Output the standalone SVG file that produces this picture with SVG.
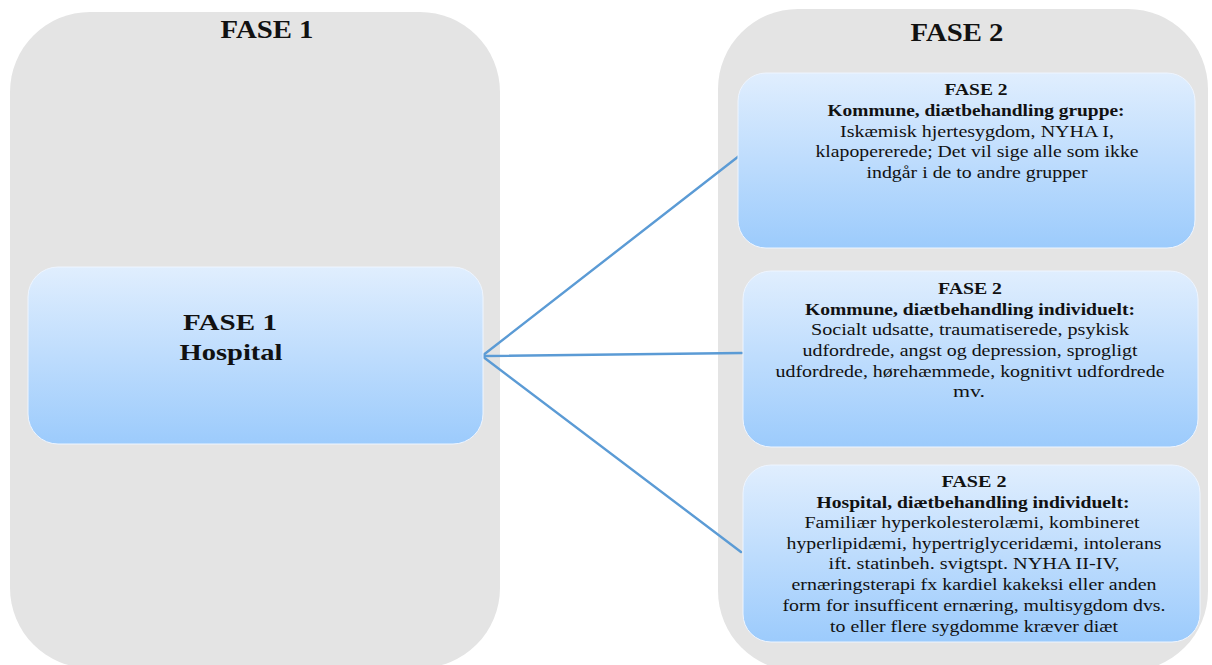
<svg xmlns="http://www.w3.org/2000/svg" width="1212" height="665" viewBox="0 0 1212 665">
<defs>
<linearGradient id="blue" x1="0" y1="0" x2="0" y2="1">
<stop offset="0" stop-color="#e0eefe"/>
<stop offset="1" stop-color="#9ccbfc"/>
</linearGradient>
<style>
.cont{fill:#e4e4e4;}
.node{fill:url(#blue);stroke:#eef5ff;stroke-width:1;}
.conn{stroke:#5b9bd5;stroke-width:2.4;fill:none;stroke-linecap:round;}
text{font-family:"Liberation Serif","Times New Roman",serif;fill:#111;text-anchor:middle;}
.title{font-size:26px;font-weight:bold;}
.big{font-size:23px;font-weight:bold;}
.b{font-size:17.5px;font-weight:bold;}
.r{font-size:17.5px;}
</style>
</defs>
<rect width="1212" height="665" fill="#ffffff"/>
<g id="fase1-container">
<rect class="cont" x="10" y="12" width="490" height="656" rx="80" ry="80"/>
<text class="title" x="267" y="38" textLength="93" lengthAdjust="spacingAndGlyphs">FASE 1</text>
</g>
<g id="fase2-container">
<rect class="cont" x="718" y="9" width="490" height="662" rx="80" ry="80"/>
<text class="title" x="957" y="41" textLength="93" lengthAdjust="spacingAndGlyphs">FASE 2</text>
</g>
<g id="connectors">
<line class="conn" x1="482" y1="356" x2="739" y2="156"/>
<line class="conn" x1="482" y1="356" x2="742" y2="353"/>
<line class="conn" x1="482" y1="356" x2="741" y2="552"/>
</g>
<g id="node-fase1">
<rect class="node" x="28" y="267" width="455" height="177" rx="30" ry="30"/>
<text class="big" x="230" y="330" textLength="94" lengthAdjust="spacingAndGlyphs">FASE 1</text>
<text class="big" x="231" y="360" textLength="103" lengthAdjust="spacingAndGlyphs">Hospital</text>
</g>
<g id="node-kommune-gruppe">
<rect class="node" x="738" y="73" width="457" height="175" rx="28" ry="28"/>
<text class="b" x="976" y="95" textLength="63" lengthAdjust="spacingAndGlyphs">FASE 2</text>
<text class="b" x="976" y="116" textLength="297" lengthAdjust="spacingAndGlyphs">Kommune, diætbehandling gruppe:</text>
<text class="r" x="977" y="137" textLength="274" lengthAdjust="spacingAndGlyphs">Iskæmisk hjertesygdom, NYHA I,</text>
<text class="r" x="977" y="157" textLength="323" lengthAdjust="spacingAndGlyphs">klapopererede; Det vil sige alle som ikke</text>
<text class="r" x="977" y="178" textLength="221" lengthAdjust="spacingAndGlyphs">indgår i de to andre grupper</text>
</g>
<g id="node-kommune-individuelt">
<rect class="node" x="743" y="271" width="455" height="176" rx="28" ry="28"/>
<text class="b" x="970" y="294" textLength="64" lengthAdjust="spacingAndGlyphs">FASE 2</text>
<text class="b" x="970" y="315" textLength="330" lengthAdjust="spacingAndGlyphs">Kommune, diætbehandling individuelt:</text>
<text class="r" x="970" y="335" textLength="318" lengthAdjust="spacingAndGlyphs">Socialt udsatte, traumatiserede, psykisk</text>
<text class="r" x="970" y="356" textLength="335" lengthAdjust="spacingAndGlyphs">udfordrede, angst og depression, sprogligt</text>
<text class="r" x="970" y="377" textLength="389" lengthAdjust="spacingAndGlyphs">udfordrede, hørehæmmede, kognitivt udfordrede</text>
<text class="r" x="969" y="397" textLength="32" lengthAdjust="spacingAndGlyphs">mv.</text>
</g>
<g id="node-hospital-individuelt">
<rect class="node" x="743" y="465" width="457" height="177" rx="28" ry="28"/>
<text class="b" x="974" y="487" textLength="65" lengthAdjust="spacingAndGlyphs">FASE 2</text>
<text class="b" x="973" y="508" textLength="313" lengthAdjust="spacingAndGlyphs">Hospital, diætbehandling individuelt:</text>
<text class="r" x="972" y="528" textLength="335" lengthAdjust="spacingAndGlyphs">Familiær hyperkolesterolæmi, kombineret</text>
<text class="r" x="974" y="549" textLength="375" lengthAdjust="spacingAndGlyphs">hyperlipidæmi, hypertriglyceridæmi, intolerans</text>
<text class="r" x="974" y="569" textLength="291" lengthAdjust="spacingAndGlyphs">ift. statinbeh. svigtspt. NYHA II-IV,</text>
<text class="r" x="974" y="590" textLength="365" lengthAdjust="spacingAndGlyphs">ernæringsterapi fx kardiel kakeksi eller anden</text>
<text class="r" x="974" y="611" textLength="383" lengthAdjust="spacingAndGlyphs">form for insufficent ernæring, multisygdom dvs.</text>
<text class="r" x="974" y="632" textLength="288" lengthAdjust="spacingAndGlyphs">to eller flere sygdomme kræver diæt</text>
</g>
</svg>
